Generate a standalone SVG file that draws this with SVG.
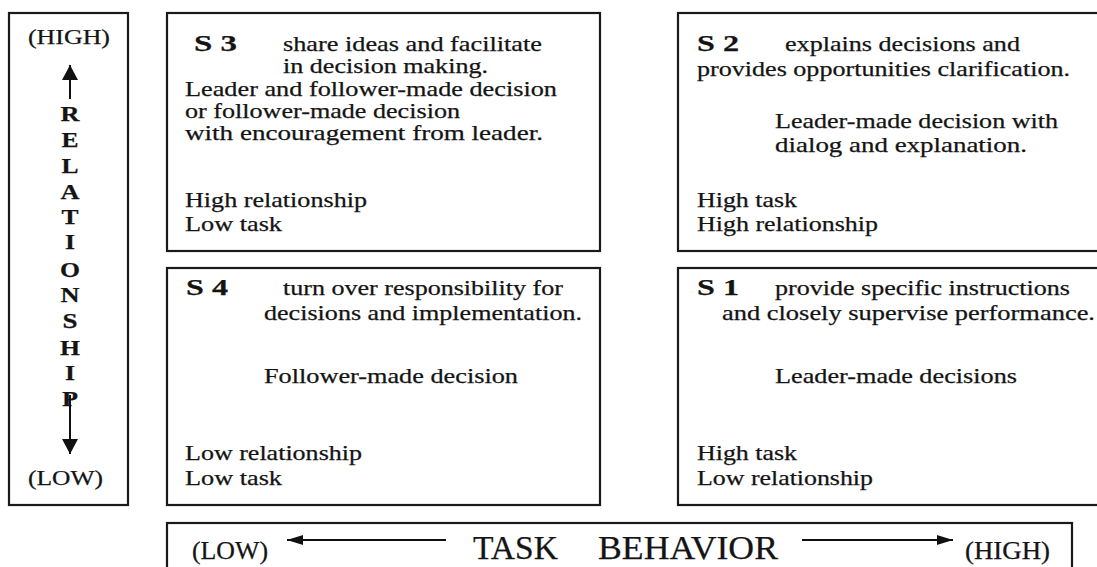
<svg xmlns="http://www.w3.org/2000/svg" width="1097" height="567" viewBox="0 0 1097 567">
<style>
.box{fill:none;stroke:#1a1a1a;stroke-width:2.2}
.tx{font-family:'Liberation Serif',Tinos,'Times New Roman',Times,serif;fill:#141414}
.tx text{stroke:#141414;stroke-width:0.25}
.t{font-size:21.5px}
.b{font-size:24px;font-weight:bold}
.v{font-size:22px;font-weight:bold;text-anchor:middle}
.ax{font-size:22px}
.axb{font-size:25px}
.big{font-size:34px}
.arr{stroke:#111;stroke-width:2;fill:none}
</style>
<defs>
<marker id="ah" markerUnits="userSpaceOnUse" viewBox="0 0 16 10" markerWidth="16" markerHeight="10" refX="16" refY="5" orient="auto"><path d="M0,0 L16,5 L0,10 z" fill="#111"/></marker>
<marker id="av" markerUnits="userSpaceOnUse" viewBox="0 0 15 16" markerWidth="15" markerHeight="16" refX="15" refY="8" orient="auto"><path d="M0,0 L15,8 L0,16 z" fill="#111"/></marker>
</defs>
<rect width="1097" height="567" fill="#fff"/>

<g id="relationship-axis" class="tx" font-family="Liberation Serif, serif">
<rect class="box" x="9" y="13" width="119" height="492"/>
<text class="ax" x="28" y="44" textLength="82" lengthAdjust="spacingAndGlyphs">(HIGH)</text>
<text class="v" x="70" y="121" textLength="19" lengthAdjust="spacingAndGlyphs">R</text>
<text class="v" x="70" y="147" textLength="17" lengthAdjust="spacingAndGlyphs">E</text>
<text class="v" x="70" y="173" textLength="17" lengthAdjust="spacingAndGlyphs">L</text>
<text class="v" x="70" y="199" textLength="19" lengthAdjust="spacingAndGlyphs">A</text>
<text class="v" x="70" y="224" textLength="17" lengthAdjust="spacingAndGlyphs">T</text>
<text class="v" x="70" y="249" textLength="10" lengthAdjust="spacingAndGlyphs">I</text>
<text class="v" x="70" y="277" textLength="20" lengthAdjust="spacingAndGlyphs">O</text>
<text class="v" x="70" y="302" textLength="19" lengthAdjust="spacingAndGlyphs">N</text>
<text class="v" x="70" y="328" textLength="15" lengthAdjust="spacingAndGlyphs">S</text>
<text class="v" x="70" y="355" textLength="20" lengthAdjust="spacingAndGlyphs">H</text>
<text class="v" x="70" y="380" textLength="10" lengthAdjust="spacingAndGlyphs">I</text>
<text class="v" x="70" y="406" textLength="16" lengthAdjust="spacingAndGlyphs">P</text>
<text class="ax" x="28" y="485" textLength="75" lengthAdjust="spacingAndGlyphs">(LOW)</text>
</g>

<g id="s3" class="tx" font-family="Liberation Serif, serif">
<rect class="box" x="167" y="13" width="433" height="238"/>
<text class="b" x="194" y="51" textLength="43" lengthAdjust="spacingAndGlyphs">S 3</text>
<text class="t" x="283" y="51" textLength="259" lengthAdjust="spacingAndGlyphs">share ideas and facilitate</text>
<text class="t" x="283" y="73" textLength="205" lengthAdjust="spacingAndGlyphs">in decision making.</text>
<text class="t" x="185" y="96" textLength="372" lengthAdjust="spacingAndGlyphs">Leader and follower-made decision</text>
<text class="t" x="185" y="118" textLength="275" lengthAdjust="spacingAndGlyphs">or follower-made decision</text>
<text class="t" x="185" y="140" textLength="358" lengthAdjust="spacingAndGlyphs">with encouragement from leader.</text>
<text class="t" x="185" y="207" textLength="182" lengthAdjust="spacingAndGlyphs">High relationship</text>
<text class="t" x="185" y="231" textLength="97" lengthAdjust="spacingAndGlyphs">Low task</text>
</g>

<g id="s2" class="tx" font-family="Liberation Serif, serif">
<rect class="box" x="678" y="13" width="440" height="238"/>
<text class="b" x="697" y="51" textLength="42" lengthAdjust="spacingAndGlyphs">S 2</text>
<text class="t" x="785" y="51" textLength="235" lengthAdjust="spacingAndGlyphs">explains decisions and</text>
<text class="t" x="697" y="76" textLength="373" lengthAdjust="spacingAndGlyphs">provides opportunities clarification.</text>
<text class="t" x="775" y="128" textLength="283" lengthAdjust="spacingAndGlyphs">Leader-made decision with</text>
<text class="t" x="775" y="152" textLength="252" lengthAdjust="spacingAndGlyphs">dialog and explanation.</text>
<text class="t" x="697" y="207" textLength="100" lengthAdjust="spacingAndGlyphs">High task</text>
<text class="t" x="697" y="231" textLength="181" lengthAdjust="spacingAndGlyphs">High relationship</text>
</g>

<g id="s4" class="tx" font-family="Liberation Serif, serif">
<rect class="box" x="167" y="268" width="433" height="237"/>
<text class="b" x="186" y="295" textLength="42" lengthAdjust="spacingAndGlyphs">S 4</text>
<text class="t" x="283" y="295" textLength="280" lengthAdjust="spacingAndGlyphs">turn over responsibility for</text>
<text class="t" x="264" y="320" textLength="318" lengthAdjust="spacingAndGlyphs">decisions and implementation.</text>
<text class="t" x="264" y="383" textLength="254" lengthAdjust="spacingAndGlyphs">Follower-made decision</text>
<text class="t" x="185" y="460" textLength="177" lengthAdjust="spacingAndGlyphs">Low relationship</text>
<text class="t" x="185" y="485" textLength="97" lengthAdjust="spacingAndGlyphs">Low task</text>
</g>

<g id="s1" class="tx" font-family="Liberation Serif, serif">
<rect class="box" x="678" y="268" width="440" height="237"/>
<text class="b" x="697" y="295" textLength="42" lengthAdjust="spacingAndGlyphs">S 1</text>
<text class="t" x="775" y="295" textLength="295" lengthAdjust="spacingAndGlyphs">provide specific instructions</text>
<text class="t" x="722" y="320" textLength="373" lengthAdjust="spacingAndGlyphs">and closely supervise performance.</text>
<text class="t" x="775" y="383" textLength="242" lengthAdjust="spacingAndGlyphs">Leader-made decisions</text>
<text class="t" x="697" y="460" textLength="100" lengthAdjust="spacingAndGlyphs">High task</text>
<text class="t" x="697" y="485" textLength="176" lengthAdjust="spacingAndGlyphs">Low relationship</text>
</g>

<g id="task-axis" class="tx" font-family="Liberation Serif, serif">
<rect class="box" x="167" y="523" width="905" height="60"/>
<text class="axb" x="192" y="559" textLength="76" lengthAdjust="spacingAndGlyphs">(LOW)</text>
<text class="big" x="473" y="559" textLength="85" lengthAdjust="spacingAndGlyphs">TASK</text>
<text class="big" x="598" y="559" textLength="180" lengthAdjust="spacingAndGlyphs">BEHAVIOR</text>
<text class="axb" x="965" y="559" textLength="85" lengthAdjust="spacingAndGlyphs">(HIGH)</text>
</g>

<g id="connectors">
<line class="arr" x1="70" y1="99" x2="70" y2="65" marker-end="url(#av)"/>
<line class="arr" x1="70" y1="395" x2="70" y2="454" marker-end="url(#av)"/>
<line class="arr" x1="446" y1="540" x2="287" y2="540" marker-end="url(#ah)"/>
<line class="arr" x1="802" y1="540" x2="953" y2="540" marker-end="url(#ah)"/>
</g>
</svg>
